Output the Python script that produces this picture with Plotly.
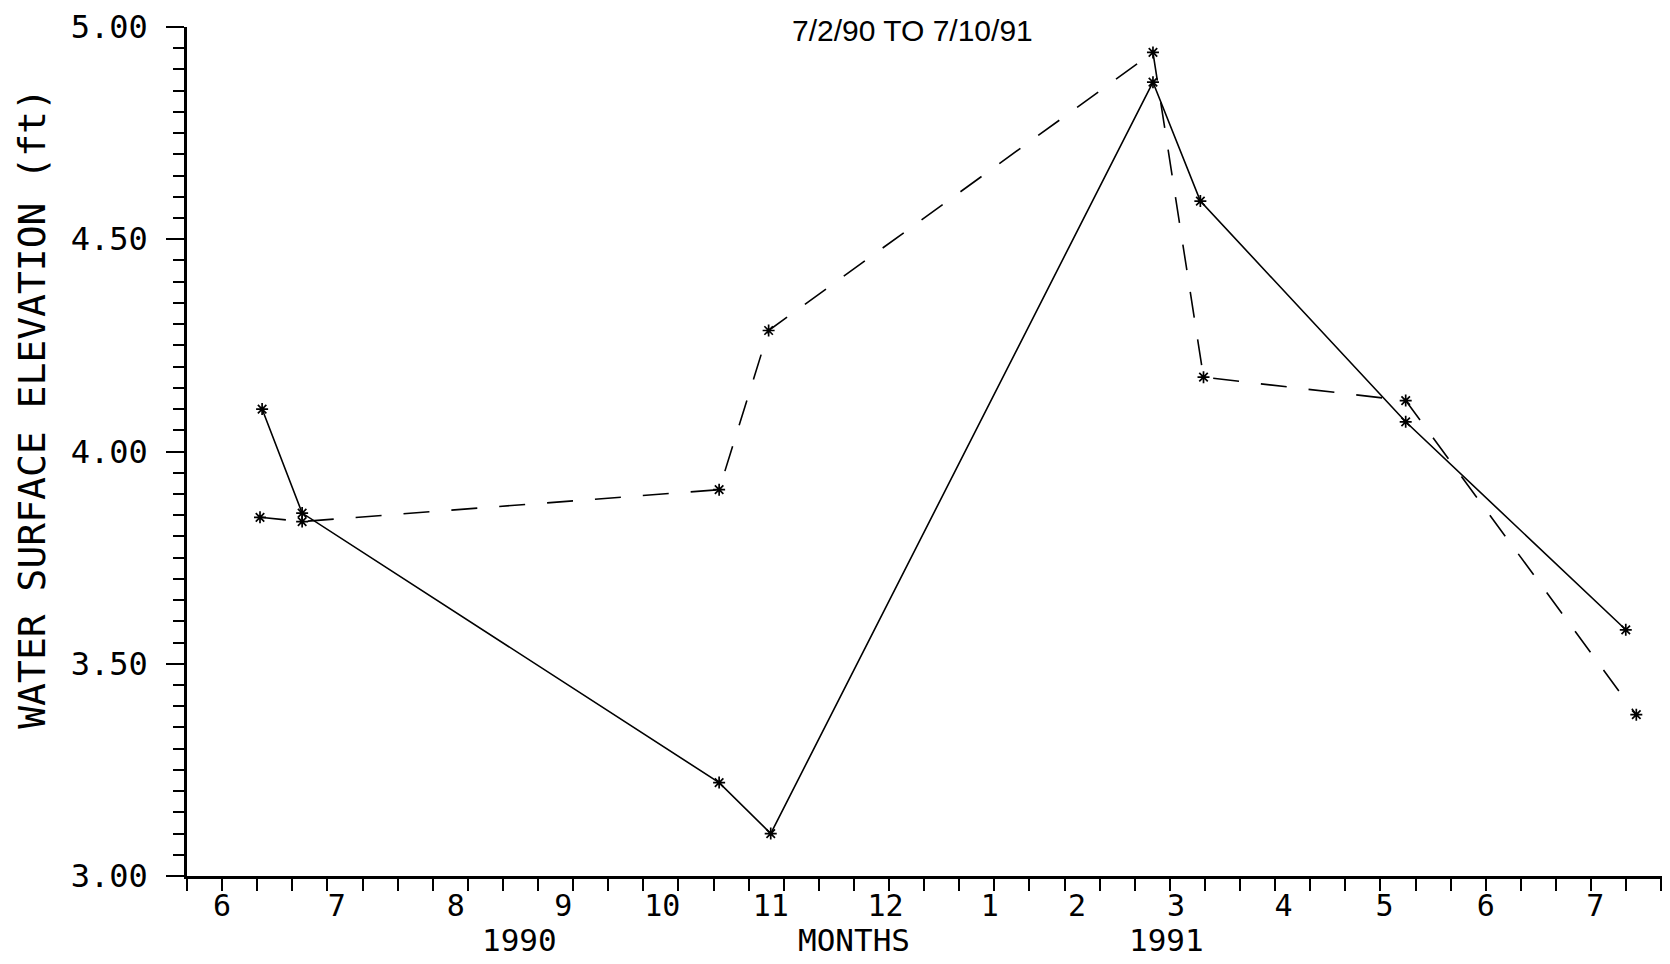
import plotly.graph_objects as go

# Month positions: 6 = June 1990 label, 18 = June 1991 label
months_solid = [6.38, 6.76, 10.72, 11.21, 14.84, 15.29, 17.24, 19.33]
elev_solid = [4.10, 3.855, 3.22, 3.10, 4.87, 4.59, 4.07, 3.58]

months_dashed = [6.36, 6.76, 10.72, 11.19, 14.84, 15.32, 17.24, 19.43]
elev_dashed = [3.845, 3.835, 3.91, 4.285, 4.94, 4.175, 4.12, 3.38]

# month labels as placed on the original plot (not evenly spaced)
label_months = [6.00, 7.09, 8.22, 9.24, 10.18, 11.21, 12.30, 13.29, 14.12, 15.06,
                16.08, 17.04, 18.00, 19.04]
tick_labels = ["6", "7", "8", "9", "10", "11", "12", "1", "2", "3", "4", "5", "6", "7"]

year_labels = ["1990", "MONTHS", "1991"]
year_label_months = [8.82, 12.0, 14.97]

title_text = "7/2/90 TO 7/10/91"
y_title = "WATER SURFACE ELEVATION (ft)"

MONO = "DejaVu Sans Mono, Liberation Mono, monospace"

fig = go.Figure()
fig.add_trace(go.Scatter(
    x=months_solid, y=elev_solid, mode="lines+markers",
    line=dict(color="black", width=1.6),
    marker=dict(symbol="asterisk-open", size=10, line=dict(color="black", width=1.7)),
    showlegend=False, hoverinfo="x+y"))
fig.add_trace(go.Scatter(
    x=months_dashed, y=elev_dashed, mode="lines+markers",
    line=dict(color="black", width=1.6, dash="26px,22px"),
    marker=dict(symbol="asterisk-open", size=10, line=dict(color="black", width=1.7)),
    showlegend=False, hoverinfo="x+y"))

axis_common = dict(showline=True, linecolor="black", linewidth=2.5,
                   tickcolor="black", tickwidth=2, showgrid=False, zeroline=False,
                   mirror=False, ticklabeloverflow="allow")

fig.update_xaxes(
    **axis_common,
    range=[5.6667, 19.674],
    ticks="",
    tickmode="array", tickvals=label_months, ticktext=tick_labels,
    ticklabelstandoff=1,
    tickfont=dict(family=MONO, size=30, color="black"),
    minor=dict(tickmode="linear", tick0=6, dtick=1/3, ticks="outside", ticklen=12,
               tickwidth=2, tickcolor="black", showgrid=False),
)
fig.update_yaxes(
    **axis_common,
    ticks="outside",
    range=[3, 5], tickmode="linear", tick0=3, dtick=0.5, tickformat=".2f",
    ticklen=18, ticklabelstandoff=12,
    tickfont=dict(family=MONO, size=32, color="black"),
    minor=dict(tickmode="linear", tick0=3, dtick=0.05, ticks="outside", ticklen=11,
               tickwidth=2, tickcolor="black", showgrid=False),
)

annotations = []
for lbl, m in zip(year_labels, year_label_months):
    annotations.append(dict(x=m, xref="x", y=-0.0755, yref="paper", text=lbl,
                            showarrow=False, xanchor="center", yanchor="middle",
                            font=dict(family=MONO, size=31, color="black")))
annotations.append(dict(x=0.4922, xref="paper", y=0.9953, yref="paper", text=title_text,
                        showarrow=False, xanchor="center", yanchor="middle",
                        font=dict(family="Liberation Sans, Arial, sans-serif", size=30,
                                  color="black")))
annotations.append(dict(x=-0.1051, xref="paper", y=0.5515, yref="paper", text=y_title,
                        textangle=-90, showarrow=False, xanchor="center", yanchor="middle",
                        font=dict(family=MONO, size=38, color="black")))

# page body has an 8px margin, so the figure is sized to fit the 1670x964 window
fig.update_layout(
    width=1654, height=948,
    margin=dict(l=179, r=0, t=14, b=80),
    plot_bgcolor="white", paper_bgcolor="white",
    showlegend=False,
    annotations=annotations,
)

fig.write_html("out.html")
